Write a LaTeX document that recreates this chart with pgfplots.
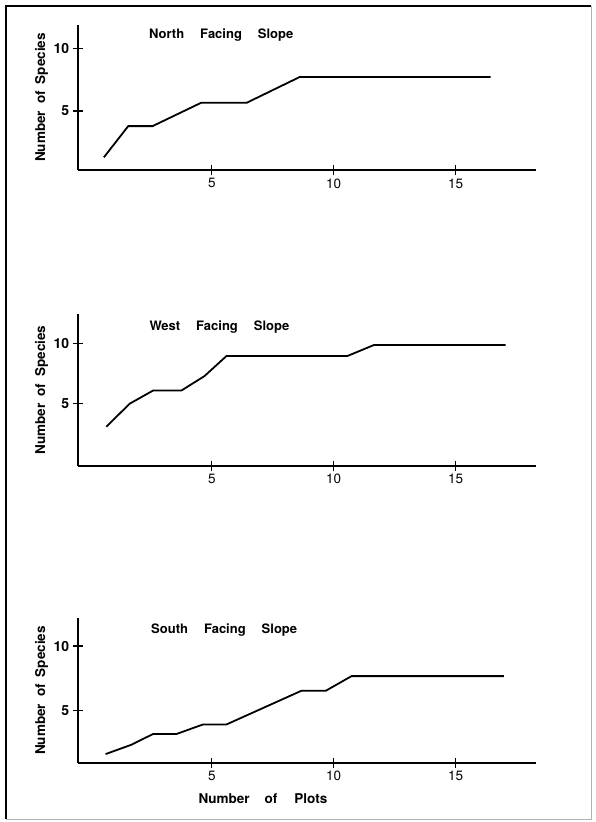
\documentclass[border=0pt]{standalone}
\usepackage{fontspec}
\setmainfont{TeX Gyre Heros}
\usepackage{pgfplots}
\pgfplotsset{compat=1.18}

\pgfplotstableread{
x y
0.57 1.31
1.57 3.80
2.57 3.80
4.56 5.66
6.43 5.66
8.60 7.71
16.44 7.71
}\north
\pgfplotstableread{
x y
0.67 3.09
1.63 5.00
2.60 6.10
3.76 6.10
4.70 7.29
5.60 8.95
10.56 8.95
11.65 9.86
17.05 9.86
}\west
\pgfplotstableread{
x y
0.64 1.62
1.68 2.33
2.59 3.18
3.55 3.18
4.64 3.92
5.60 3.92
8.68 6.54
9.68 6.54
10.73 7.67
16.98 7.67
}\south

\pgfplotsset{
  slope/.style={
    scale only axis,
    width=458.2pt,
    xmin=-0.5, xmax=18.3,
    axis x line=bottom, axis y line=left,
    axis line style={-, line width=1.7pt, black},
    xtick={5,10,15}, xticklabels={5,10,15},
    ytick={5,10}, yticklabels={5,10},
    major tick length=10pt, tick align=center,
    tick style={line width=1.3pt, black},
    xticklabel style={font=\fontsize{13.5}{13.5}\selectfont},
    yticklabel style={font=\bfseries\fontsize{14}{14}\selectfont},
    clip=false,
  },
  curve/.style={black, line width=1.8pt, mark=none, line join=round},
}

\newcommand{\lab}{\fontsize{13.5}{14}\selectfont\bfseries}
\newcommand{\ttl}{\fontsize{13}{14}\selectfont\bfseries}

\begin{document}
\begin{tikzpicture}
\useasboundingbox (0,0) rectangle (595pt,-822pt);
\draw[line width=1.2pt] (591pt,-6pt) -- (6pt,-6pt) -- (6pt,-819pt);
\draw[line width=0.8pt, black!30] (6pt,-819pt) -- (591pt,-819pt) -- (591pt,-6pt);

% North
\begin{axis}[slope, at={(77.8pt,-170pt)}, anchor=south west,
  height=145pt, ymin=0.3, ymax=11.86]
\addplot[curve] table[x=x,y=y] {\north};
\end{axis}
\node[anchor=base west, inner sep=0pt] at (149pt,-38.3pt)
  {\ttl North\hspace{16pt}Facing\hspace{16pt}Slope};
\node[rotate=90, inner sep=0pt] at (41.5pt,-97.5pt)
  {\lab Number\hspace{7pt}of\hspace{7pt}Species};

% West
\begin{axis}[slope, at={(77.8pt,-465.7pt)}, anchor=south west,
  height=151.7pt, ymin=-0.14, ymax=12.43]
\addplot[curve] table[x=x,y=y] {\west};
\end{axis}
\node[anchor=base west, inner sep=0pt] at (149.3pt,-330.7pt)
  {\ttl West\hspace{16pt}Facing\hspace{16pt}Slope};
\node[rotate=90, inner sep=0pt] at (41.5pt,-390pt)
  {\lab Number\hspace{7pt}of\hspace{7pt}Species};

% South
\begin{axis}[slope, at={(77.8pt,-762.7pt)}, anchor=south west,
  height=144.4pt, ymin=0.95, ymax=12.16]
\addplot[curve] table[x=x,y=y] {\south};
\end{axis}
\node[anchor=base west, inner sep=0pt] at (151pt,-633.3pt)
  {\ttl South\hspace{16pt}Facing\hspace{16pt}Slope};
\node[rotate=90, inner sep=0pt] at (41.5pt,-690.5pt)
  {\lab Number\hspace{7pt}of\hspace{7pt}Species};
\node[anchor=base west, inner sep=0pt] at (198.3pt,-803pt)
  {\lab Number\hspace{15pt}of\hspace{17pt}Plots};
\end{tikzpicture}
\end{document}
